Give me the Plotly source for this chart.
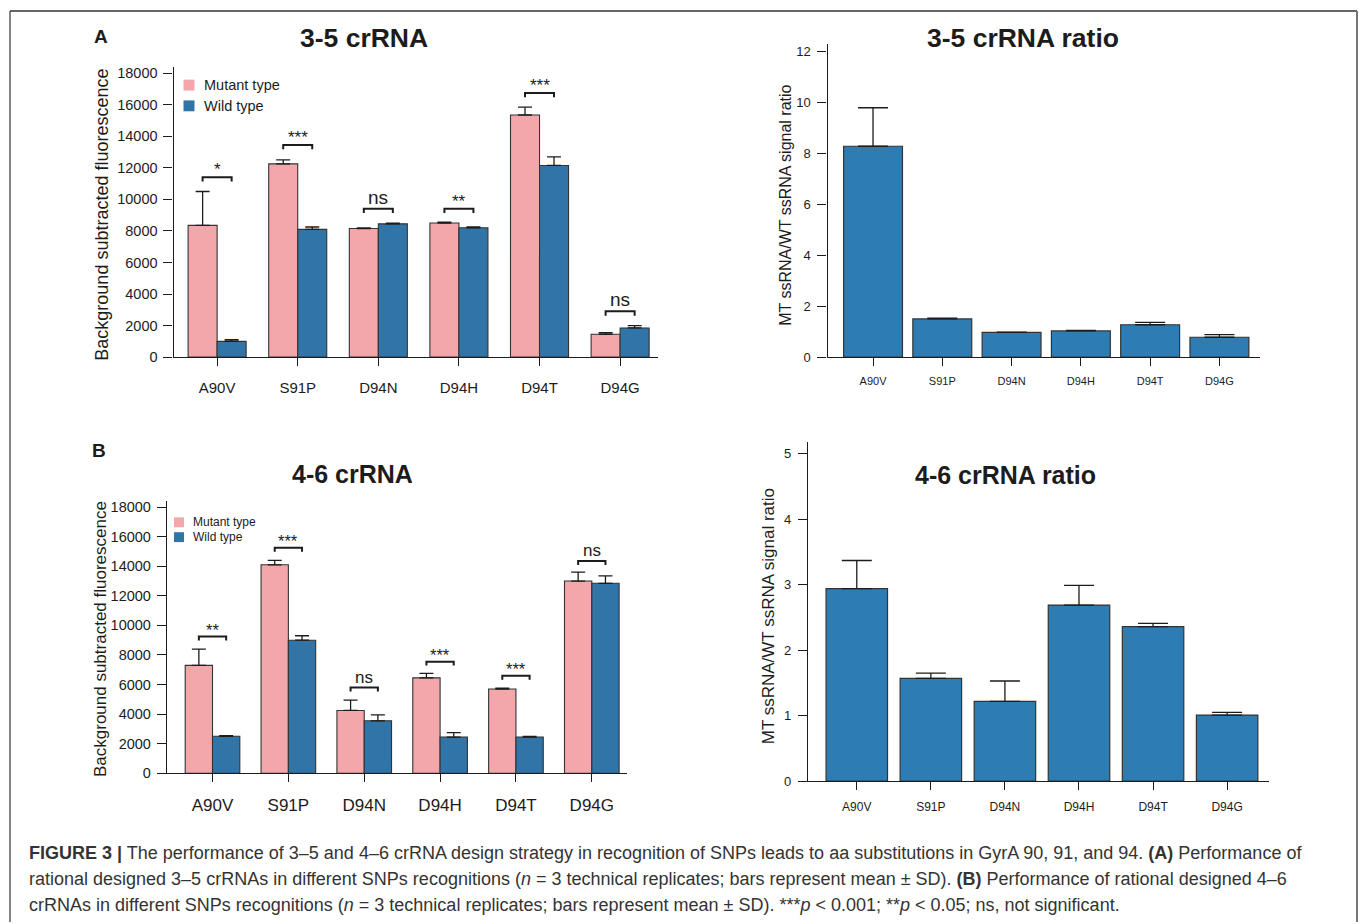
import plotly.graph_objects as go

W, H = 1359, 924

categories = ["A90V", "S91P", "D94N", "D94H", "D94T", "D94G"]

# 3-5 crRNA: background subtracted fluorescence, mean and SD
a_mutant_mean = [8350, 12250, 8150, 8500, 15350, 1450]
a_mutant_sd = [2150, 250, 50, 50, 500, 100]
a_wild_mean = [1000, 8100, 8450, 8200, 12150, 1850]
a_wild_sd = [100, 150, 50, 50, 550, 150]
a_bracket_level = [11400, 13450, 9400, 9400, 16750, 2900]
a_significance = ["*", "***", "ns", "**", "***", "ns"]

# 3-5 crRNA: MT/WT signal ratio
a_ratio_mean = [8.28, 1.50, 0.97, 1.03, 1.27, 0.78]
a_ratio_sd = [1.51, 0.03, 0.01, 0.02, 0.09, 0.10]

# 4-6 crRNA: background subtracted fluorescence, mean and SD
b_mutant_mean = [7300, 14100, 4250, 6450, 5700, 13000]
b_mutant_sd = [1100, 300, 700, 300, 50, 600]
b_wild_mean = [2500, 9000, 3550, 2450, 2450, 12850]
b_wild_sd = [50, 300, 400, 300, 50, 500]
b_bracket_level = [9250, 15250, 5800, 7550, 6600, 14350]
b_significance = ["**", "***", "ns", "***", "***", "ns"]

# 4-6 crRNA: MT/WT signal ratio
b_ratio_mean = [2.94, 1.57, 1.22, 2.69, 2.36, 1.01]
b_ratio_sd = [0.43, 0.08, 0.31, 0.30, 0.05, 0.04]

fluor_ticks = list(range(0, 18001, 2000))
ratio_a_ticks = list(range(0, 13, 2))
ratio_b_ticks = list(range(0, 6))

FONT = "Liberation Sans, Arial, Helvetica, sans-serif"
PINK = "#f4a7ab"
BLUE = "#3174a8"
RATIO_BLUE = "#2e7cb4"
EDGE = "#333333"
INK = "#1c1c1c"

idx = list(range(len(categories)))


def fx(px):
    return px / W


def fy(py):
    return 1 - py / H


fig = go.Figure()


def axis_pair(n, x0, x1, y_top, y_bot, xrange, yrange, yticks, xfont, yfont, xstand, ystand):
    sx = "" if n == 1 else str(n)
    common = dict(showline=True, linecolor=INK, linewidth=1.3, ticks="outside",
                  tickcolor=INK, tickwidth=1.3, showgrid=False, zeroline=False,
                  fixedrange=True)
    fig.layout["xaxis" + sx] = dict(
        domain=[fx(x0), fx(x1)], range=xrange, tickmode="array", tickvals=idx,
        ticktext=categories, ticklen=8, anchor="y" + sx,
        tickfont=dict(family=FONT, size=xfont, color=INK), ticklabelstandoff=xstand,
        **common)
    fig.layout["yaxis" + sx] = dict(
        domain=[fy(y_bot), fy(y_top)], range=yrange, tickmode="array", tickvals=yticks,
        ticktext=[str(v) for v in yticks], ticklen=9, anchor="x" + sx,
        tickfont=dict(family=FONT, size=yfont, color=INK), ticklabelstandoff=ystand,
        **common)


def err(sd, cap):
    return dict(type="data", array=sd, arrayminus=[0] * len(sd), symmetric=False,
                color=INK, thickness=1.3, width=cap)


def grouped_panel(n, mutant, mutant_sd, wild, wild_sd, levels, marks, drop, ns_size, star_size):
    sx = "" if n == 1 else str(n)
    fig.add_trace(go.Bar(x=idx, y=mutant, width=0.36, offset=-0.36, name="Mutant type",
                         marker=dict(color=PINK, line=dict(color=EDGE, width=1.1)),
                         error_y=err(mutant_sd, 7), xaxis="x" + sx, yaxis="y" + sx,
                         showlegend=False))
    fig.add_trace(go.Bar(x=idx, y=wild, width=0.36, offset=0, name="Wild type",
                         marker=dict(color=BLUE, line=dict(color=EDGE, width=1.1)),
                         error_y=err(wild_sd, 7), xaxis="x" + sx, yaxis="y" + sx,
                         showlegend=False))
    bx, by = [], []
    for i, lvl in zip(idx, levels):
        bx += [i - 0.18, i - 0.18, i + 0.18, i + 0.18, None]
        by += [lvl - drop, lvl, lvl, lvl - drop, None]
    fig.add_trace(go.Scatter(x=bx, y=by, mode="lines", line=dict(color=INK, width=2),
                             xaxis="x" + sx, yaxis="y" + sx, showlegend=False,
                             hoverinfo="skip"))
    for i, lvl, m in zip(idx, levels, marks):
        fig.add_annotation(x=i, y=lvl, xref="x" + sx, yref="y" + sx, text=m,
                           showarrow=False, yanchor="bottom", yshift=-1 if m == "ns" else -4,
                           font=dict(family=FONT, size=ns_size if m == "ns" else star_size,
                                     color=INK))


def ratio_panel(n, mean, sd, width, cap):
    sx = str(n)
    fig.add_trace(go.Bar(x=idx, y=mean, width=width, name="MT/WT ratio",
                         marker=dict(color=RATIO_BLUE, line=dict(color=EDGE, width=1.2)),
                         error_y=err(sd, cap), xaxis="x" + sx, yaxis="y" + sx,
                         showlegend=False))


# Panel A: 3-5 crRNA
axis_pair(1, 173.6, 658, 65.6, 359, [-0.54, 5.47], [0, 18400], fluor_ticks, 15, 14.5, 9, 3)
grouped_panel(1, a_mutant_mean, a_mutant_sd, a_wild_mean, a_wild_sd,
              a_bracket_level, a_significance, 270, 19, 17)

axis_pair(2, 827.5, 1259.6, 42.3, 359, [-0.657, 5.58], [0, 12.3], ratio_a_ticks, 11, 13, 6, 4)
ratio_panel(2, a_ratio_mean, a_ratio_sd, 0.85, 15)

# Panel B: 4-6 crRNA
axis_pair(3, 167, 626.7, 504.7, 779.7, [-0.6, 5.46], [0, 18400], fluor_ticks, 17, 14.5, 8, 3)
grouped_panel(3, b_mutant_mean, b_mutant_sd, b_wild_mean, b_wild_sd,
              b_bracket_level, b_significance, 268, 17, 16.5)

axis_pair(4, 807.9, 1268.6, 444.8, 787.7, [-0.66, 5.56], [0, 5.18], ratio_b_ticks, 12, 13, 6, 4)
ratio_panel(4, b_ratio_mean, b_ratio_sd, 0.83, 15)


def paper_text(x, y, text, size, bold=False, angle=0, xanchor="center", color=INK):
    fig.add_annotation(x=fx(x), y=fy(y), xref="paper", yref="paper",
                       text=f"<b>{text}</b>" if bold else text, showarrow=False,
                       xanchor=xanchor, yanchor="middle", textangle=angle,
                       font=dict(family=FONT, size=size, color=color))


# Panel letters and titles
paper_text(100.5, 35, "A", 19, bold=True)
paper_text(98.5, 453, "B", 19, bold=True)
paper_text(363.5, 36, "3-5 crRNA", 26.5, bold=True)
paper_text(1022.5, 36, "3-5 crRNA ratio", 26.5, bold=True)
paper_text(352, 477.5, "4-6 crRNA", 25, bold=True)
paper_text(1005, 478, "4-6 crRNA ratio", 25, bold=True)

# Axis titles
paper_text(102, 215, "Background subtracted fluorescence", 18, angle=-90)
paper_text(786, 205, "MT ssRNA/WT ssRNA signal ratio", 16, angle=-90)
paper_text(100, 644, "Background subtracted fluorescence", 17, angle=-90)
paper_text(768, 621, "MT ssRNA/WT ssRNA signal ratio", 17, angle=-90)

# Legends for the grouped panels
legend_specs = [
    (189, 84, 105, 11, 202, 14.5),
    (179, 526, 541, 10, 190.5, 12),
]
for cx, y_mut, y_wt, size, tx, fsize in legend_specs:
    for cy, color, label in ((y_mut, PINK, "Mutant type"), (y_wt, BLUE, "Wild type")):
        fig.add_shape(type="rect", xref="paper", yref="paper",
                      x0=fx(cx - size / 2), x1=fx(cx + size / 2),
                      y0=fy(cy + size / 2), y1=fy(cy - size / 2),
                      fillcolor=color, line=dict(width=0))
        paper_text(tx, cy, label, fsize, xanchor="left")

# Figure caption
caption_lines = [
    "<b>FIGURE 3 |</b> The performance of 3–5 and 4–6 crRNA design strategy in recognition of SNPs "
    "leads to aa substitutions in GyrA 90, 91, and 94. <b>(A)</b> Performance of",
    "rational designed 3–5 crRNAs in different SNPs recognitions (<i>n</i> = 3 technical replicates; "
    "bars represent mean ± SD). <b>(B)</b> Performance of rational designed 4–6",
    "crRNAs in different SNPs recognitions (<i>n</i> = 3 technical replicates; bars represent "
    "mean ± SD). ***<i>p</i> &lt; 0.001; **<i>p</i> &lt; 0.05; ns, not significant.",
]
for k, line in enumerate(caption_lines):
    paper_text(26.5, 860 + 26.5 * k, line, 18, xanchor="left", color="#333333")

# Page frame
fig.add_shape(type="line", xref="paper", yref="paper", x0=fx(10), x1=fx(1357),
              y0=fy(9), y1=fy(9), line=dict(color="#333333", width=1.5))
fig.add_shape(type="line", xref="paper", yref="paper", x0=fx(10), x1=fx(10),
              y0=fy(9), y1=fy(930), line=dict(color="#333333", width=1.2))
fig.add_shape(type="line", xref="paper", yref="paper", x0=fx(1357), x1=fx(1357),
              y0=fy(9), y1=fy(930), line=dict(color="#777777", width=2))

fig.update_layout(width=W, height=H, margin=dict(l=0, r=0, t=0, b=0),
                  paper_bgcolor="white", plot_bgcolor="white", barmode="overlay",
                  font=dict(family=FONT, color=INK), showlegend=False)

fig.write_html("out.html", config={"displayModeBar": False})
